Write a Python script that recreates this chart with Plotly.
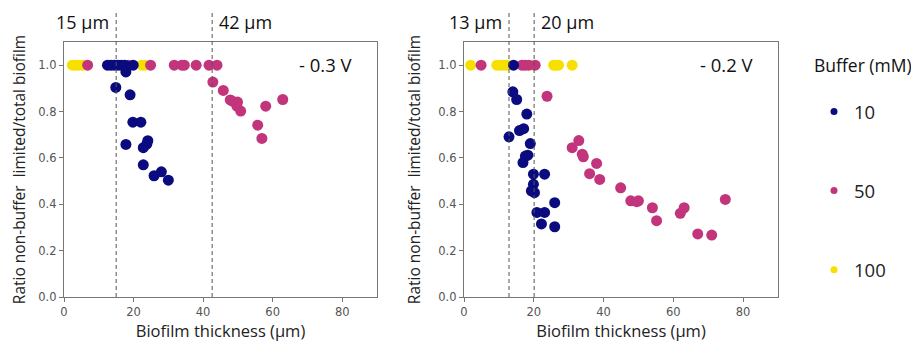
import plotly.graph_objects as go

# ---- data: -0.3 V panel ----
l10_x = [12.5, 13.5, 14.5, 15.5, 16.5, 17.5, 19.9, 17.8, 14.9, 19.0, 19.8, 22.1, 17.8, 24.1, 23.8, 22.8, 22.8, 25.9, 28.0, 30.0]
l10_y = [1.0, 1.0, 1.0, 1.0, 1.0, 1.0, 1.0, 0.971, 0.904, 0.872, 0.754, 0.754, 0.658, 0.674, 0.659, 0.644, 0.570, 0.523, 0.540, 0.504]
l50_x = [6.8, 18.5, 24.9, 31.7, 33.9, 34.6, 38.0, 41.7, 44.0, 42.8, 45.8, 47.8, 48.3, 49.9, 49.7, 50.8, 55.7, 56.9, 58.0, 62.9]
l50_y = [1.0, 1.0, 1.0, 1.0, 1.0, 1.0, 1.0, 1.0, 1.0, 0.927, 0.891, 0.850, 0.846, 0.841, 0.823, 0.802, 0.741, 0.684, 0.823, 0.852]
l100_x = [2.4, 3.4, 4.4, 5.5, 22.4, 23.3]
l100_y = [1.0, 1.0, 1.0, 1.0, 1.0, 1.0]

# ---- data: -0.2 V panel ----
r10_x = [14.2, 14.0, 15.1, 18.0, 15.9, 17.1, 12.9, 19.0, 18.3, 17.6, 16.9, 19.9, 23.1, 19.9, 19.3, 20.2, 26.0, 20.9, 23.1, 22.2, 26.0]
r10_y = [1.0, 0.885, 0.852, 0.789, 0.718, 0.726, 0.691, 0.662, 0.612, 0.608, 0.580, 0.530, 0.530, 0.486, 0.458, 0.450, 0.407, 0.365, 0.365, 0.315, 0.303]
r50_x = [4.9, 16.6, 17.5, 18.5, 20.4, 23.8, 31.0, 32.9, 33.9, 34.2, 38.0, 36.0, 38.9, 44.9, 47.8, 49.5, 50.0, 54.0, 55.2, 62.0, 63.1, 67.0, 71.0, 74.9]
r50_y = [1.0, 1.0, 1.0, 1.0, 1.0, 0.866, 0.644, 0.675, 0.616, 0.605, 0.576, 0.532, 0.507, 0.471, 0.415, 0.411, 0.415, 0.385, 0.329, 0.361, 0.385, 0.272, 0.267, 0.421]
r100_x = [1.9, 9.4, 10.4, 11.4, 12.3, 19.5, 25.7, 26.4, 27.1, 31.0]
r100_y = [1.0, 1.0, 1.0, 1.0, 1.0, 1.0, 1.0, 1.0, 1.0, 1.0]

buffers = ["10", "50", "100"]
colors = {"10": "#0b0b80", "50": "#c2357c", "100": "#f7e000"}

left_lines = [15, 42.6]
left_line_labels = ["15 µm", "42 µm"]
right_lines = [12.9, 20.1]
right_line_labels = ["13 µm", "20 µm"]
left_voltage = "- 0.3 V"
right_voltage = "- 0.2 V"

x_ticks = [0, 20, 40, 60, 80]
y_ticks = [0.0, 0.2, 0.4, 0.6, 0.8, 1.0]
y_tick_text = ["0.0", "0.2", "0.4", "0.6", "0.8", "1.0"]

# page body has an 8px margin: size the figure so it fills the window exactly
OFF = 8
W, H = 919 - OFF, 344 - OFF


def px(x):
    return (x - OFF) / W


def py(y):
    return (H - (y - OFF)) / H


fig = go.Figure()

panels = [
    ("x", "y", {"100": (l100_x, l100_y), "50": (l50_x, l50_y), "10": (l10_x, l10_y)}),
    ("x2", "y2", {"100": (r100_x, r100_y), "50": (r50_x, r50_y), "10": (r10_x, r10_y)}),
]
for xa, ya, series in panels:
    for b in ["100", "50", "10"]:
        xs, ys = series[b]
        fig.add_trace(go.Scatter(
            x=xs, y=ys, mode="markers", xaxis=xa, yaxis=ya,
            marker=dict(size=11, color=colors[b], line=dict(width=0)),
            showlegend=False, hoverinfo="x+y", name=b))

# legend entries (smaller markers like the reference)
for b in buffers:
    fig.add_trace(go.Scatter(
        x=[None], y=[None], mode="markers", name=b,
        marker=dict(size=7, color=colors[b]),
        legendgroup=b, showlegend=True))

axis_common = dict(
    range=[0, 90], tickvals=x_ticks, ticks="outside", ticklen=4, tickcolor="#777",
    showline=True, linecolor="#777", linewidth=1.3, mirror=True, showgrid=False, zeroline=False,
    automargin=False,
    tickfont=dict(family="DejaVu Sans", size=11.5, color="#555"),
    title=dict(text="Biofilm thickness (µm)", font=dict(family="Open Sans", size=16.5, color="#222"), standoff=6),
)
yaxis_common = dict(
    range=[0, 1.1], tickvals=y_ticks, ticktext=y_tick_text, ticks="outside", ticklen=4, tickcolor="#777",
    showline=True, linecolor="#777", linewidth=1.3, mirror=True, showgrid=False, zeroline=False,
    automargin=False,
    tickfont=dict(family="DejaVu Sans", size=11.5, color="#555"),
    title=dict(text="Ratio non-buffer  limited/total biofilm", font=dict(family="Open Sans", size=15.5, color="#222"), standoff=13),
)

ydom = [py(297), py(42)]
fig.update_layout(
    width=W, height=H, autosize=False,
    margin=dict(l=0, r=0, t=0, b=0, autoexpand=False),
    paper_bgcolor="white", plot_bgcolor="white",
    xaxis=dict(domain=[px(64), px(377)], anchor="y", **axis_common),
    yaxis=dict(domain=ydom, anchor="x", **yaxis_common),
    xaxis2=dict(domain=[px(464), px(778)], anchor="y2", **axis_common),
    yaxis2=dict(domain=ydom, anchor="x2", **yaxis_common),
    legend=dict(x=px(814), y=py(93), xanchor="left", yanchor="top",
                font=dict(family="Open Sans", size=18.5, color="#222"),
                tracegroupgap=52, itemsizing="trace", bgcolor="rgba(0,0,0,0)"),
    showlegend=True,
)

shapes = []
annotations = []
for xref, lines, labels, volt in [("x", left_lines, left_line_labels, left_voltage),
                                  ("x2", right_lines, right_line_labels, right_voltage)]:
    for j, (lx, lab) in enumerate(zip(lines, labels)):
        shapes.append(dict(type="line", xref=xref, yref="paper", x0=lx, x1=lx,
                           y0=py(297), y1=py(12),
                           line=dict(color="#555", width=1, dash="4px,3px")))
        annotations.append(dict(xref=xref, yref="paper", x=lx, y=py(22),
                                text=lab, showarrow=False,
                                xanchor="right" if j == 0 else "left", yanchor="middle",
                                xshift=-5 if j == 0 else 5,
                                font=dict(family="Open Sans", size=18, color="#111")))
    annotations.append(dict(xref=xref + " domain", yref="paper", x=0.93, y=py(65),
                            text=volt, showarrow=False, xanchor="right", yanchor="middle",
                            font=dict(family="Open Sans", size=18.5, color="#111")))

annotations.append(dict(xref="paper", yref="paper", x=px(918), y=py(65),
                        text="Buffer (mM):", showarrow=False, xanchor="right", yanchor="middle",
                        font=dict(family="Open Sans", size=17.5, color="#111")))

fig.update_layout(shapes=shapes, annotations=annotations)
fig.write_html("out.html")
